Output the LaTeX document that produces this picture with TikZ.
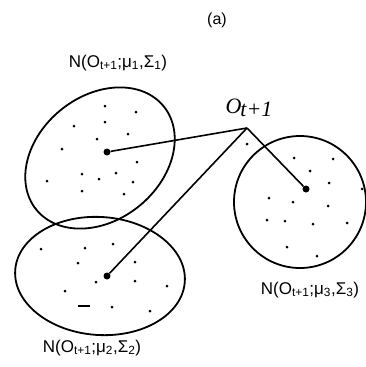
\documentclass[tikz,border=0pt]{standalone}
\usepackage{fontspec}
\setmainfont{Liberation Sans}
\newfontfamily\obsfont{Liberation Serif}
\usetikzlibrary{positioning}

\begin{document}
\begin{tikzpicture}[
  x=1pt, y=-1pt,
  cluster/.style={draw, line width=1.8pt},
  link/.style={draw, line width=1.6pt},
  mean/.style={circle, fill, inner sep=0pt, minimum size=7pt},
  sample/.style={circle, fill, inner sep=0pt, minimum size=3pt},
  gauss/.style={font=\fontsize{17}{19}\selectfont, inner sep=0pt}
]
  \useasboundingbox (0,0) rectangle (365,367);

  % Title
  \node[font=\fontsize{16}{18}\selectfont] (title) at (217,20) {(a)};

  % Mixture components
  \draw[cluster, rotate around={39:(100,158)}] (100,158) ellipse [x radius=82, y radius=62];
  \draw[cluster, rotate around={-4:(100,276)}] (100,276) ellipse [x radius=85, y radius=59];
  \draw[cluster] (300,202) circle [radius=66];

  % Means
  \node[mean] (mu1) at (107,152) {};
  \node[mean] (mu2) at (107,276) {};
  \node[mean] (mu3) at (306,189) {};

  % Observation
  \coordinate (obs) at (247,128);
  \node[font=\fontsize{22}{24}\selectfont\obsfont\itshape, inner sep=0pt] (obslabel) at (249,108)
    {O\raisebox{-3pt}{\kern-1pt t+1}};

  % Samples
  \foreach \p in {(105,106),(136,112),(74,126),(105,122),(128,134),(97,139),(62,149),
                  (137,162),(82,174),(99,179),(116,173),(133,182),(47,181),(82,191),(124,194),
                  (247,144)}
    \node[sample] at \p {};
  \foreach \p in {(41,249),(85,248),(113,244),(78,263),(135,262),(96,282),(135,281),
                  (167,286),(65,291),(150,311),(112,307)}
    \node[sample] at \p {};
  \foreach \p in {(294,158),(333,159),(310,171),(329,183),(269,198),(293,202),(328,206),
                  (267,220),(285,221),(313,224),(347,223),(287,247),(317,256),(362,189)}
    \node[sample] at \p {};
  \draw[line width=1.2pt] (78,306) -- (90,306);

  % Connections
  \draw[link] (mu1) -- (obs);
  \draw[link] (mu2) -- (obs);
  \draw[link] (obs) -- (mu3);

  % Labels
  \node[gauss] (lab1) at (118,63) {N(O\textsubscript{t+1};μ\textsubscript{1},Σ\textsubscript{1})};
  \node[gauss] (lab2) at (92,348) {N(O\textsubscript{t+1};μ\textsubscript{2},Σ\textsubscript{2})};
  \node[gauss] (lab3) at (310,290) {N(O\textsubscript{t+1};μ\textsubscript{3},Σ\textsubscript{3})};
\end{tikzpicture}
\end{document}
